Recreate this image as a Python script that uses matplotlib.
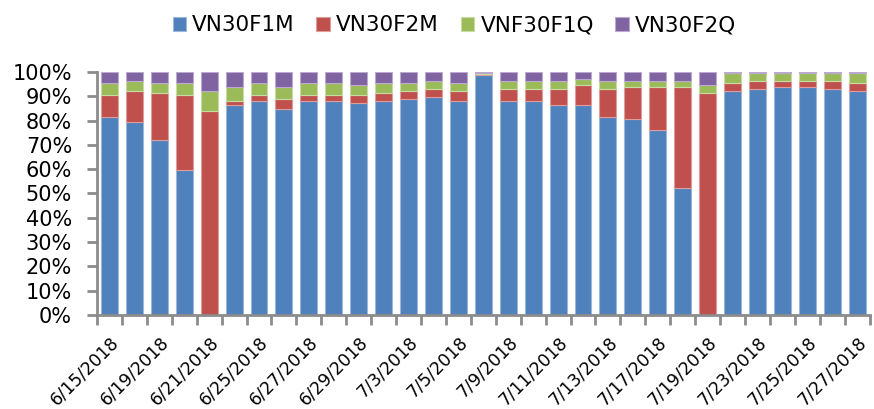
import matplotlib
matplotlib.use('Agg')
import matplotlib.pyplot as plt
import numpy as np

plt.rcParams['font.family'] = ['DejaVu Sans']

dates = ['6/15/2018', '6/18/2018', '6/19/2018', '6/20/2018', '6/21/2018', '6/22/2018',
         '6/25/2018', '6/26/2018', '6/27/2018', '6/28/2018', '6/29/2018', '7/2/2018',
         '7/3/2018', '7/4/2018', '7/5/2018', '7/6/2018', '7/9/2018', '7/10/2018',
         '7/11/2018', '7/12/2018', '7/13/2018', '7/16/2018', '7/17/2018', '7/18/2018',
         '7/19/2018', '7/20/2018', '7/23/2018', '7/24/2018', '7/25/2018', '7/26/2018',
         '7/27/2018']

# share of volume, %
vn30f1m = [81.6, 79.3, 71.9, 59.7, 0.0, 86.6, 88.2, 84.9, 88.2, 88.2, 87.4, 88.2,
           89.0, 89.8, 88.2, 98.9, 88.2, 88.2, 86.6, 86.6, 81.6, 80.8, 76.0, 52.4,
           0.0, 92.3, 93.1, 94.0, 94.0, 93.1, 92.3]
vn30f2m = [9.1, 13.0, 19.6, 31.0, 84.1, 1.6, 2.5, 4.1, 2.5, 2.5, 3.3, 3.3,
           3.3, 3.3, 4.1, 0.1, 4.9, 4.9, 6.5, 8.2, 11.5, 13.2, 18.0, 41.6,
           91.5, 3.3, 3.3, 2.4, 2.4, 3.3, 3.3]
vnf30f1q = [4.9, 4.1, 4.1, 4.9, 8.2, 5.8, 4.9, 5.0, 4.9, 4.9, 4.1, 4.1,
            3.3, 3.3, 3.3, 0.6, 3.3, 3.3, 3.3, 2.5, 3.3, 2.4, 2.4, 2.4,
            3.3, 4.1, 3.3, 3.3, 3.3, 3.3, 4.1]
vn30f2q = [4.4, 3.6, 4.4, 4.4, 7.7, 6.0, 4.4, 6.0, 4.4, 4.4, 5.2, 4.4,
           4.4, 3.6, 4.4, 0.4, 3.6, 3.6, 3.6, 2.7, 3.6, 3.6, 3.6, 3.6,
           5.2, 0.3, 0.3, 0.3, 0.3, 0.3, 0.3]

series = [('VN30F1M', vn30f1m, '#4F81BD', '#9DB7D9'),
          ('VN30F2M', vn30f2m, '#C0504D', '#DE9D9B'),
          ('VNF30F1Q', vnf30f1q, '#9BBB59', '#C9DBA5'),
          ('VN30F2Q', vn30f2q, '#8064A2', '#BBA9CF')]

fig = plt.figure(figsize=(8.74, 4.09), dpi=100)
ax = fig.add_axes([0.111, 0.230, 0.884, 0.594])

x = np.arange(len(dates))
bottom = np.zeros(len(dates))
for name, vals, col, edge in series:
    vals = np.array(vals)
    ax.bar(x, vals, 0.68, bottom=bottom, color=col, edgecolor=edge,
           linewidth=0.8, label=name)
    bottom += vals

ax.set_xlim(-0.5, len(dates) - 0.5)
ax.set_ylim(0, 100)
ax.set_yticks(np.arange(0, 101, 10))
ax.set_yticklabels([f'{v}%' for v in range(0, 101, 10)], fontsize=15)

ax.set_xticks(x[::2])
ax.set_xticklabels(dates[::2], rotation=45, ha='right', rotation_mode='anchor',
                   fontsize=12.5)
ax.set_xticks(np.arange(-0.5, len(dates), 1), minor=True)
ax.tick_params(axis='x', which='major', length=0, pad=13)
ax.tick_params(axis='x', which='minor', length=7, width=2, color='#8C8C8C')
ax.tick_params(axis='y', length=7, width=2, color='#8C8C8C', pad=11)

for s in ['top', 'right']:
    ax.spines[s].set_visible(False)
for s in ['left', 'bottom']:
    ax.spines[s].set_color('#8C8C8C')
    ax.spines[s].set_linewidth(2)

fig.legend(loc='upper center', bbox_to_anchor=(0.52, 1.01), ncol=4, frameon=False,
           fontsize=15.5, handlelength=0.62, handleheight=0.6, handletextpad=0.3,
           columnspacing=1.0)

fig.savefig('out.png', dpi=100)
